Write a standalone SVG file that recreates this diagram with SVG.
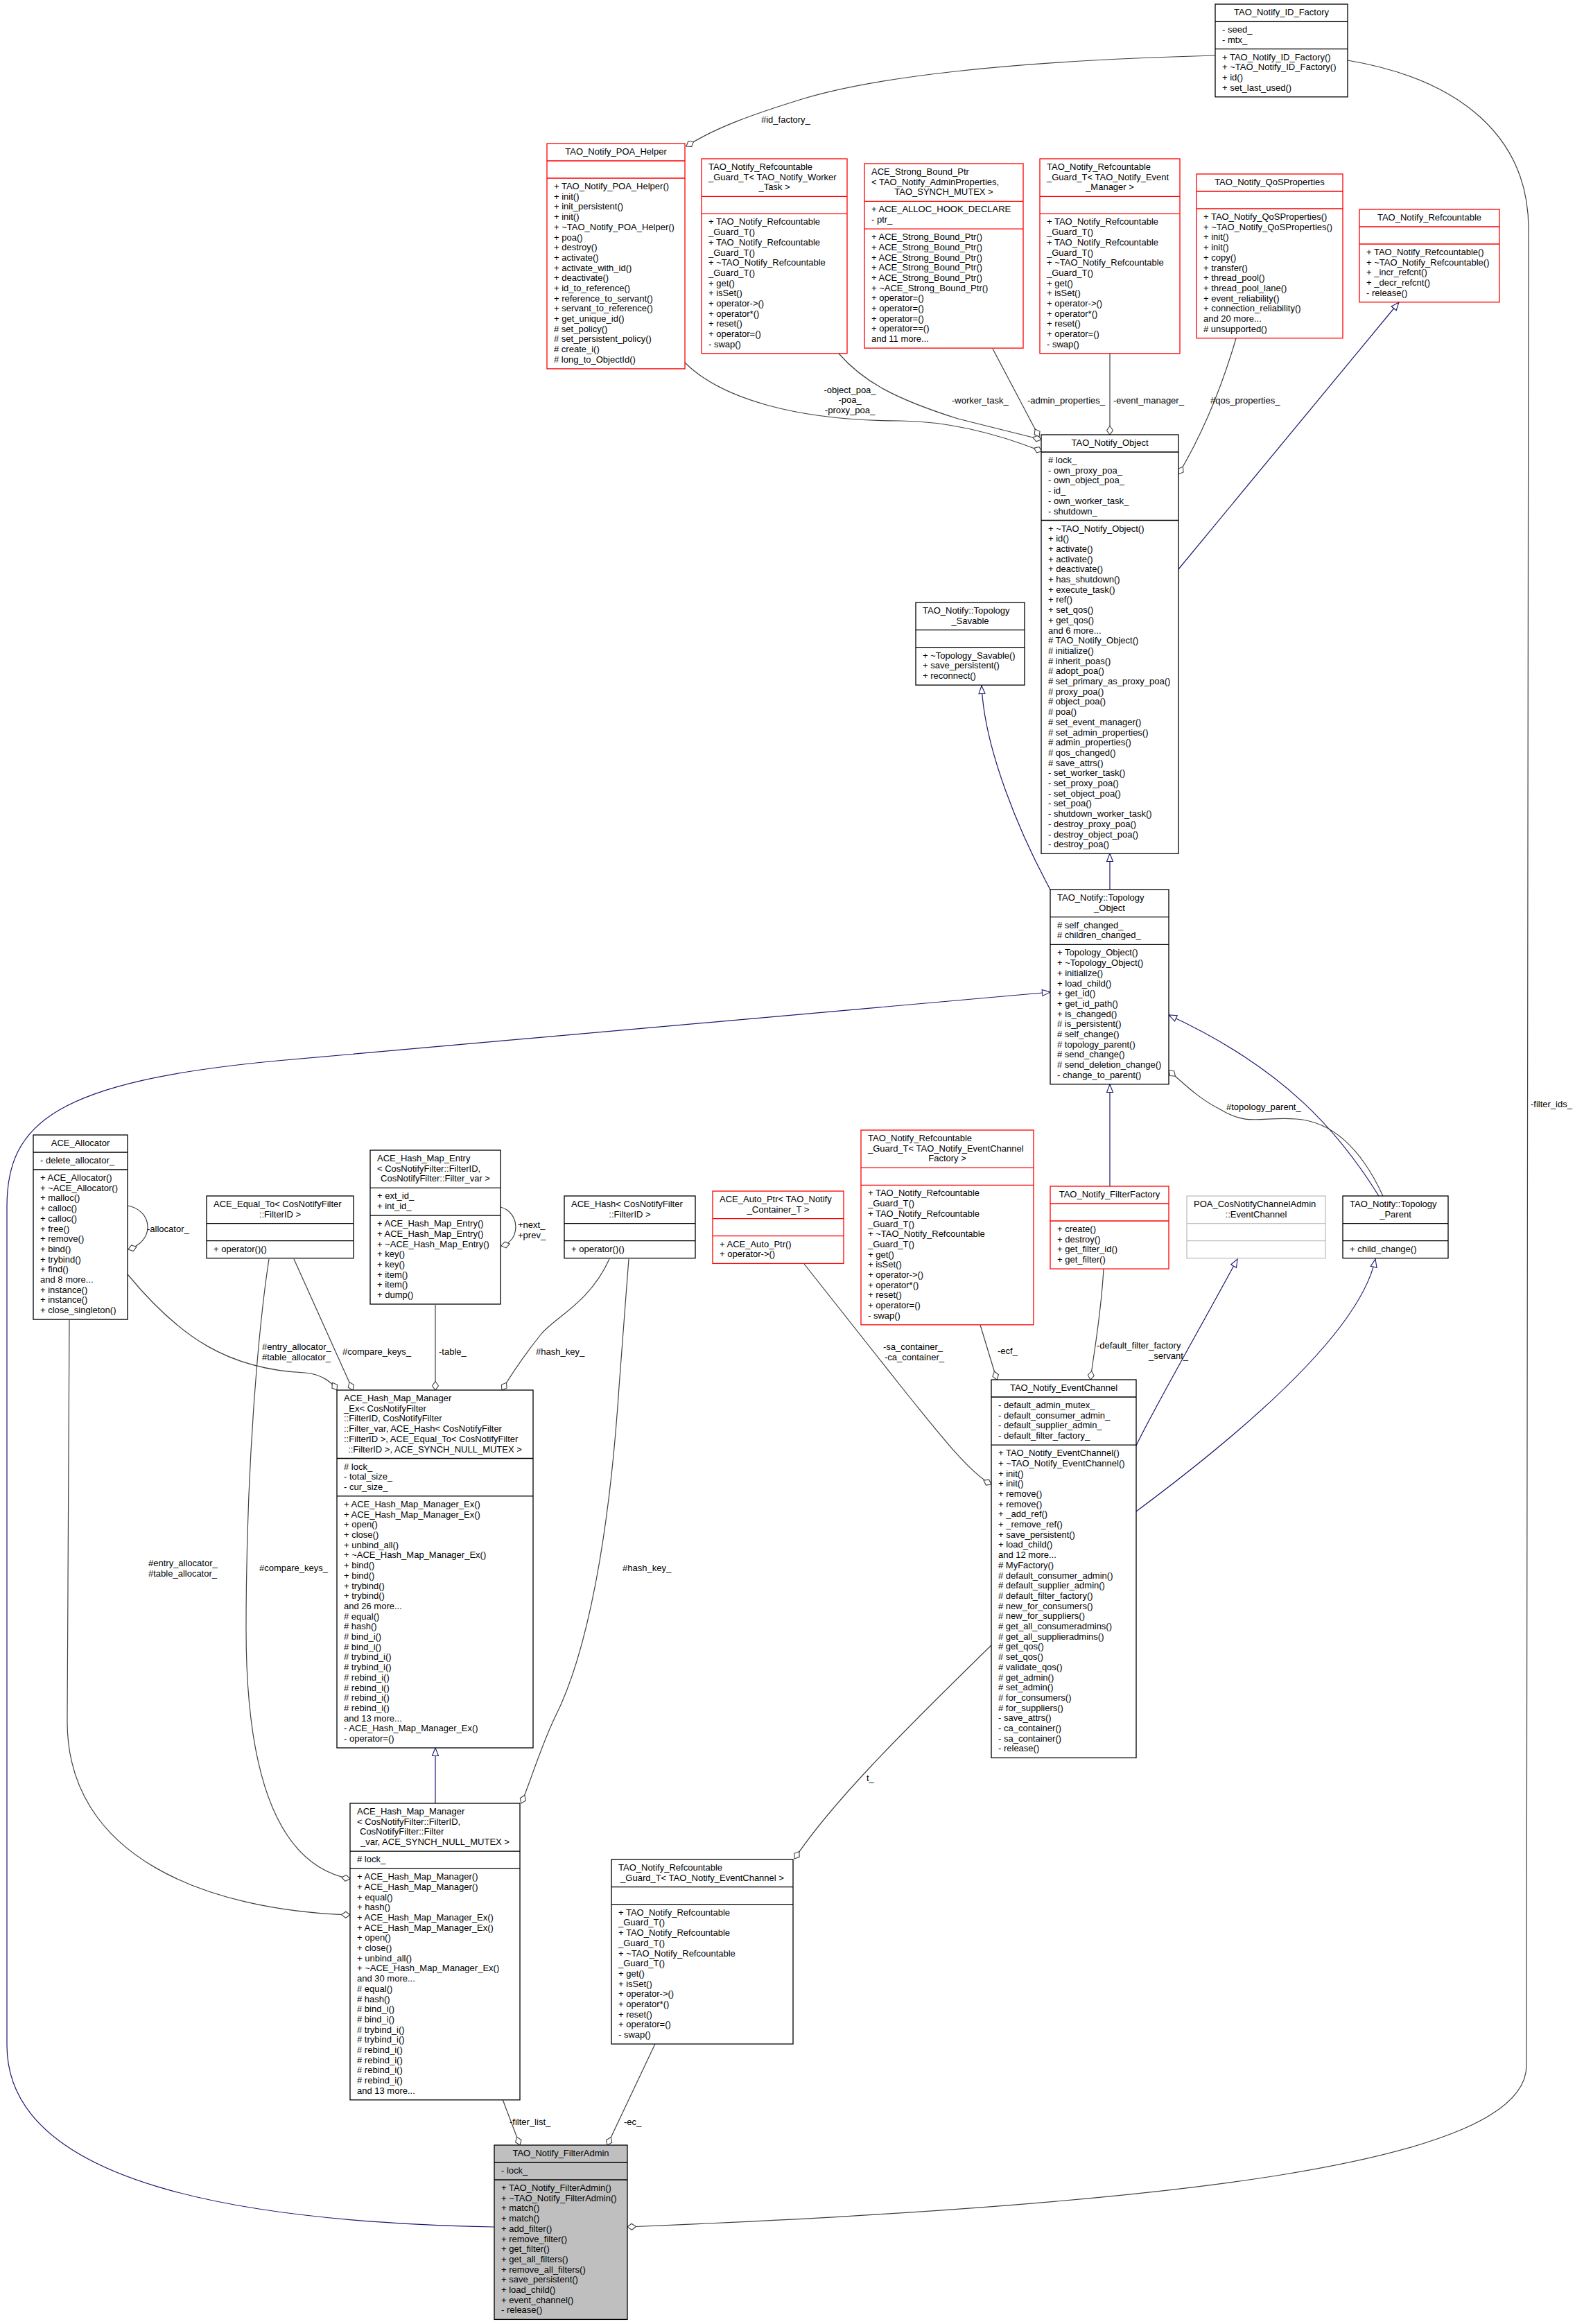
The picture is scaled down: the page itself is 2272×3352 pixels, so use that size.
<svg xmlns="http://www.w3.org/2000/svg" width="2272" height="3352" viewBox="0 0 2272 3352">
<style>
.t{font-family:"Liberation Sans",Arial,Helvetica,sans-serif;font-size:13px;fill:#000}
.c{text-anchor:middle}
.rb{fill:#fff;stroke:#ff0000;stroke-width:1.3}
.bb{fill:#fff;stroke:#000;stroke-width:1.3}
.gb{fill:#fff;stroke:#bfbfbf;stroke-width:1.3}
.fb{fill:#bfbfbf;stroke:#000;stroke-width:1.3}
.e{fill:none;stroke:#404040;stroke-width:1.2;marker-end:url(#d)}
.i{fill:none;stroke:#191970;stroke-width:1.2;marker-end:url(#a)}
</style>
<defs>
<marker id="d" markerUnits="userSpaceOnUse" markerWidth="14" markerHeight="12" refX="13" refY="5" orient="auto" overflow="visible"><path d="M0.5,5 L6.75,0.5 L13,5 L6.75,9.5 Z" fill="#fff" stroke="#404040" stroke-width="1.1"/></marker>
<marker id="a" markerUnits="userSpaceOnUse" markerWidth="14" markerHeight="12" refX="12" refY="5" orient="auto" overflow="visible"><path d="M0.5,0.5 L12,5 L0.5,9.5 Z" fill="#fff" stroke="#191970" stroke-width="1.1"/></marker>
</defs>
<rect x="0" y="0" width="2272" height="3352" fill="#fff"/>

<g id="connectors">
<path class="e" d="M1753,80 C1450,88 1260,112 1160,142 C1085,165 1030,185 990,211"/>
<path class="e" d="M1944,87 C2110,115 2205,200 2205,330 L2202,2980 C2200,3120 1700,3180 905,3212"/>
<path class="e" d="M988,523 C1040,575 1150,607 1300,607 C1380,608 1450,630 1503,651"/>
<path class="e" d="M1210,510 C1245,550 1290,575 1382,604 C1430,616 1470,626 1502,634"/>
<path class="e" d="M1432,503 L1499,630"/>
<path class="e" d="M1601,510 L1601,627"/>
<path class="e" d="M1783,488 C1762,560 1735,625 1700,684"/>
<path class="i" d="M1700,821 L2018,436"/>
<path class="i" d="M1515,1283 C1470,1200 1420,1080 1416,989"/>
<path class="i" d="M1601,1283 L1601,1231"/>
<path class="i" d="M713,3212 C350,3205 10,3150 10,2950 L10,1740 C10,1620 80,1560 400,1530 L1515,1431"/>
<path class="i" d="M1989,1725 C1930,1630 1850,1540 1686,1464"/>
<path class="e" d="M1995,1725 C1965,1660 1925,1618 1870,1614 C1820,1610 1800,1625 1760,1600 C1730,1585 1710,1565 1686,1544"/>
<path class="i" d="M1601,1711 L1601,1564"/>
<path class="e" d="M1592,1830 C1588,1900 1578,1950 1573,1990"/>
<path class="e" d="M1414,1911 L1438,1990"/>
<path class="e" d="M1160,1823 L1300,2000 C1360,2075 1400,2125 1430,2141"/>
<path class="i" d="M1639,2085 C1660,2040 1740,1900 1785,1816"/>
<path class="i" d="M1639,2180 C1760,2090 1960,1930 1984,1816"/>
<path class="e" d="M1430,2373 C1300,2500 1200,2600 1146,2681"/>
<path class="e" d="M945,2948 L876,3094"/>
<path class="e" d="M725,3028 L750,3094"/>
<path class="i" d="M628,2601 L628,2521"/>
<path class="e" d="M184,1838 C260,1930 330,1975 440,1980 C462,1982 478,1992 486,2005"/>
<path class="e" d="M100,1904 L97,2480 C95,2680 300,2755 505,2762"/>
<path class="e" d="M424,1816 L509,2005"/>
<path class="e" d="M388,1816 C375,1900 355,2100 355,2350 C355,2560 400,2690 505,2710"/>
<path class="e" d="M628,1882 L628,2005"/>
<path class="e" d="M879,1816 C850,1880 800,1900 780,1925 C760,1950 745,1970 724,2005"/>
<path class="e" d="M907,1816 L893,2000 C880,2200 850,2380 800,2478 C780,2520 765,2570 752,2601"/>
<path class="e" d="M184,1739 C220,1745 225,1790 185,1802"/>
<path class="e" d="M722,1741 C750,1748 752,1790 723,1797"/>
<g class="t">
<text x="1098" y="177">#id_factory_</text>
<text class="c" x="1226" y="566.5"><tspan x="1226">-object_poa_</tspan><tspan x="1226" dy="14.7">-poa_</tspan><tspan x="1226" dy="14.7">-proxy_poa_</tspan></text>
<text x="1373" y="582">-worker_task_</text>
<text x="1482" y="582">-admin_properties_</text>
<text x="1606" y="582">-event_manager_</text>
<text x="1746" y="582">#qos_properties_</text>
<text x="2208" y="1597">-filter_ids_</text>
<text x="1769" y="1601">#topology_parent_</text>
<text x="212" y="1777">-allocator_</text>
<text x="747" y="1771">+next_</text>
<text x="747" y="1786">+prev_</text>
<text x="378" y="1947">#entry_allocator_</text>
<text x="378" y="1961.7">#table_allocator_</text>
<text x="494" y="1954">#compare_keys_</text>
<text x="633" y="1954">-table_</text>
<text x="773" y="1954">#hash_key_</text>
<text x="1274" y="1947">-sa_container_</text>
<text x="1276" y="1961.7">-ca_container_</text>
<text x="1439" y="1953">-ecf_</text>
<text x="1582" y="1945">-default_filter_factory</text>
<text x="1657" y="1960">_servant_</text>
<text x="1250" y="2569">t_</text>
<text x="214" y="2259">#entry_allocator_</text>
<text x="214" y="2273.7">#table_allocator_</text>
<text x="374" y="2266">#compare_keys_</text>
<text x="898" y="2266">#hash_key_</text>
<text x="735" y="3065">-filter_list_</text>
<text x="900" y="3065">-ec_</text>
</g>
</g>

<g id="n_id_factory">
<rect class="bb" x="1753" y="6" width="191" height="133.8"/>
<path class="bb" d="M1753,31 h191 M1753,70.7 h191"/>
<text class="t c" x="1848.5" y="22">TAO_Notify_ID_Factory</text>
<text class="t" y="47"><tspan x="1763">- seed_</tspan><tspan x="1763" dy="14.7">- mtx_</tspan></text>
<text class="t" y="86.7"><tspan x="1763">+ TAO_Notify_ID_Factory()</tspan><tspan x="1763" dy="14.7">+ ~TAO_Notify_ID_Factory()</tspan><tspan x="1763" dy="14.7">+ id()</tspan><tspan x="1763" dy="14.7">+ set_last_used()</tspan></text>
</g>

<g id="n_poa_helper">
<rect class="rb" x="789" y="207" width="199" height="324.9"/>
<path class="rb" d="M789,232 h199 M789,257 h199"/>
<text class="t c" x="888.5" y="223">TAO_Notify_POA_Helper</text>
<text class="t" y="273"><tspan x="799">+ TAO_Notify_POA_Helper()</tspan><tspan x="799" dy="14.7">+ init()</tspan><tspan x="799" dy="14.7">+ init_persistent()</tspan><tspan x="799" dy="14.7">+ init()</tspan><tspan x="799" dy="14.7">+ ~TAO_Notify_POA_Helper()</tspan><tspan x="799" dy="14.7">+ poa()</tspan><tspan x="799" dy="14.7">+ destroy()</tspan><tspan x="799" dy="14.7">+ activate()</tspan><tspan x="799" dy="14.7">+ activate_with_id()</tspan><tspan x="799" dy="14.7">+ deactivate()</tspan><tspan x="799" dy="14.7">+ id_to_reference()</tspan><tspan x="799" dy="14.7">+ reference_to_servant()</tspan><tspan x="799" dy="14.7">+ servant_to_reference()</tspan><tspan x="799" dy="14.7">+ get_unique_id()</tspan><tspan x="799" dy="14.7"># set_policy()</tspan><tspan x="799" dy="14.7"># set_persistent_policy()</tspan><tspan x="799" dy="14.7"># create_i()</tspan><tspan x="799" dy="14.7"># long_to_ObjectId()</tspan></text>
</g>

<g id="n_guard_worker">
<rect class="rb" x="1012" y="229" width="210" height="280.8"/>
<path class="rb" d="M1012,283.4 h210 M1012,308.4 h210"/>
<text class="t" y="245"><tspan x="1022">TAO_Notify_Refcountable</tspan><tspan x="1022" dy="14.7">_Guard_T&lt; TAO_Notify_Worker</tspan><tspan class="c" x="1117" dy="14.7">_Task &gt;</tspan></text>
<text class="t" y="324.4"><tspan x="1022">+ TAO_Notify_Refcountable</tspan><tspan x="1022" dy="14.7">_Guard_T()</tspan><tspan x="1022" dy="14.7">+ TAO_Notify_Refcountable</tspan><tspan x="1022" dy="14.7">_Guard_T()</tspan><tspan x="1022" dy="14.7">+ ~TAO_Notify_Refcountable</tspan><tspan x="1022" dy="14.7">_Guard_T()</tspan><tspan x="1022" dy="14.7">+ get()</tspan><tspan x="1022" dy="14.7">+ isSet()</tspan><tspan x="1022" dy="14.7">+ operator-&gt;()</tspan><tspan x="1022" dy="14.7">+ operator*()</tspan><tspan x="1022" dy="14.7">+ reset()</tspan><tspan x="1022" dy="14.7">+ operator=()</tspan><tspan x="1022" dy="14.7">- swap()</tspan></text>
</g>

<g id="n_strong_bound_ptr">
<rect class="rb" x="1247" y="236" width="229" height="266.1"/>
<path class="rb" d="M1247,290.4 h229 M1247,330.1 h229"/>
<text class="t" y="252"><tspan x="1257">ACE_Strong_Bound_Ptr</tspan><tspan x="1257" dy="14.7">&lt; TAO_Notify_AdminProperties,</tspan><tspan class="c" x="1361.5" dy="14.7">TAO_SYNCH_MUTEX &gt;</tspan></text>
<text class="t" y="306.4"><tspan x="1257">+ ACE_ALLOC_HOOK_DECLARE</tspan><tspan x="1257" dy="14.7">- ptr_</tspan></text>
<text class="t" y="346.1"><tspan x="1257">+ ACE_Strong_Bound_Ptr()</tspan><tspan x="1257" dy="14.7">+ ACE_Strong_Bound_Ptr()</tspan><tspan x="1257" dy="14.7">+ ACE_Strong_Bound_Ptr()</tspan><tspan x="1257" dy="14.7">+ ACE_Strong_Bound_Ptr()</tspan><tspan x="1257" dy="14.7">+ ACE_Strong_Bound_Ptr()</tspan><tspan x="1257" dy="14.7">+ ~ACE_Strong_Bound_Ptr()</tspan><tspan x="1257" dy="14.7">+ operator=()</tspan><tspan x="1257" dy="14.7">+ operator=()</tspan><tspan x="1257" dy="14.7">+ operator=()</tspan><tspan x="1257" dy="14.7">+ operator==()</tspan><tspan x="1257" dy="14.7">and 11 more...</tspan></text>
</g>

<g id="n_guard_event_manager">
<rect class="rb" x="1500" y="229" width="202" height="280.8"/>
<path class="rb" d="M1500,283.4 h202 M1500,308.4 h202"/>
<text class="t" y="245"><tspan x="1510">TAO_Notify_Refcountable</tspan><tspan x="1510" dy="14.7">_Guard_T&lt; TAO_Notify_Event</tspan><tspan class="c" x="1601" dy="14.7">_Manager &gt;</tspan></text>
<text class="t" y="324.4"><tspan x="1510">+ TAO_Notify_Refcountable</tspan><tspan x="1510" dy="14.7">_Guard_T()</tspan><tspan x="1510" dy="14.7">+ TAO_Notify_Refcountable</tspan><tspan x="1510" dy="14.7">_Guard_T()</tspan><tspan x="1510" dy="14.7">+ ~TAO_Notify_Refcountable</tspan><tspan x="1510" dy="14.7">_Guard_T()</tspan><tspan x="1510" dy="14.7">+ get()</tspan><tspan x="1510" dy="14.7">+ isSet()</tspan><tspan x="1510" dy="14.7">+ operator-&gt;()</tspan><tspan x="1510" dy="14.7">+ operator*()</tspan><tspan x="1510" dy="14.7">+ reset()</tspan><tspan x="1510" dy="14.7">+ operator=()</tspan><tspan x="1510" dy="14.7">- swap()</tspan></text>
</g>

<g id="n_qos_properties">
<rect class="rb" x="1726" y="251" width="211" height="236.7"/>
<path class="rb" d="M1726,276 h211 M1726,301 h211"/>
<text class="t c" x="1831.5" y="267">TAO_Notify_QoSProperties</text>
<text class="t" y="317"><tspan x="1736">+ TAO_Notify_QoSProperties()</tspan><tspan x="1736" dy="14.7">+ ~TAO_Notify_QoSProperties()</tspan><tspan x="1736" dy="14.7">+ init()</tspan><tspan x="1736" dy="14.7">+ init()</tspan><tspan x="1736" dy="14.7">+ copy()</tspan><tspan x="1736" dy="14.7">+ transfer()</tspan><tspan x="1736" dy="14.7">+ thread_pool()</tspan><tspan x="1736" dy="14.7">+ thread_pool_lane()</tspan><tspan x="1736" dy="14.7">+ event_reliability()</tspan><tspan x="1736" dy="14.7">+ connection_reliability()</tspan><tspan x="1736" dy="14.7">and 20 more...</tspan><tspan x="1736" dy="14.7"># unsupported()</tspan></text>
</g>

<g id="n_refcountable">
<rect class="rb" x="1961" y="302" width="202" height="133.8"/>
<path class="rb" d="M1961,327 h202 M1961,352 h202"/>
<text class="t c" x="2062" y="318">TAO_Notify_Refcountable</text>
<text class="t" y="368"><tspan x="1971">+ TAO_Notify_Refcountable()</tspan><tspan x="1971" dy="14.7">+ ~TAO_Notify_Refcountable()</tspan><tspan x="1971" dy="14.7">+ _incr_refcnt()</tspan><tspan x="1971" dy="14.7">+ _decr_refcnt()</tspan><tspan x="1971" dy="14.7">- release()</tspan></text>
</g>

<g id="n_notify_object">
<rect class="bb" x="1502" y="627" width="198" height="604.2"/>
<path class="bb" d="M1502,652 h198 M1502,750.5 h198"/>
<text class="t c" x="1601" y="643">TAO_Notify_Object</text>
<text class="t" y="668"><tspan x="1512"># lock_</tspan><tspan x="1512" dy="14.7">- own_proxy_poa_</tspan><tspan x="1512" dy="14.7">- own_object_poa_</tspan><tspan x="1512" dy="14.7">- id_</tspan><tspan x="1512" dy="14.7">- own_worker_task_</tspan><tspan x="1512" dy="14.7">- shutdown_</tspan></text>
<text class="t" y="766.5"><tspan x="1512">+ ~TAO_Notify_Object()</tspan><tspan x="1512" dy="14.7">+ id()</tspan><tspan x="1512" dy="14.7">+ activate()</tspan><tspan x="1512" dy="14.7">+ activate()</tspan><tspan x="1512" dy="14.7">+ deactivate()</tspan><tspan x="1512" dy="14.7">+ has_shutdown()</tspan><tspan x="1512" dy="14.7">+ execute_task()</tspan><tspan x="1512" dy="14.7">+ ref()</tspan><tspan x="1512" dy="14.7">+ set_qos()</tspan><tspan x="1512" dy="14.7">+ get_qos()</tspan><tspan x="1512" dy="14.7">and 6 more...</tspan><tspan x="1512" dy="14.7"># TAO_Notify_Object()</tspan><tspan x="1512" dy="14.7"># initialize()</tspan><tspan x="1512" dy="14.7"># inherit_poas()</tspan><tspan x="1512" dy="14.7"># adopt_poa()</tspan><tspan x="1512" dy="14.7"># set_primary_as_proxy_poa()</tspan><tspan x="1512" dy="14.7"># proxy_poa()</tspan><tspan x="1512" dy="14.7"># object_poa()</tspan><tspan x="1512" dy="14.7"># poa()</tspan><tspan x="1512" dy="14.7"># set_event_manager()</tspan><tspan x="1512" dy="14.7"># set_admin_properties()</tspan><tspan x="1512" dy="14.7"># admin_properties()</tspan><tspan x="1512" dy="14.7"># qos_changed()</tspan><tspan x="1512" dy="14.7"># save_attrs()</tspan><tspan x="1512" dy="14.7">- set_worker_task()</tspan><tspan x="1512" dy="14.7">- set_proxy_poa()</tspan><tspan x="1512" dy="14.7">- set_object_poa()</tspan><tspan x="1512" dy="14.7">- set_poa()</tspan><tspan x="1512" dy="14.7">- shutdown_worker_task()</tspan><tspan x="1512" dy="14.7">- destroy_proxy_poa()</tspan><tspan x="1512" dy="14.7">- destroy_object_poa()</tspan><tspan x="1512" dy="14.7">- destroy_poa()</tspan></text>
</g>

<g id="n_topology_savable">
<rect class="bb" x="1321" y="869" width="157" height="119.1"/>
<path class="bb" d="M1321,908.7 h157 M1321,933.7 h157"/>
<text class="t" y="885"><tspan x="1331">TAO_Notify::Topology</tspan><tspan class="c" x="1399.5" dy="14.7">_Savable</tspan></text>
<text class="t" y="949.7"><tspan x="1331">+ ~Topology_Savable()</tspan><tspan x="1331" dy="14.7">+ save_persistent()</tspan><tspan x="1331" dy="14.7">+ reconnect()</tspan></text>
</g>

<g id="n_topology_object">
<rect class="bb" x="1515" y="1283" width="171" height="280.8"/>
<path class="bb" d="M1515,1322.7 h171 M1515,1362.4 h171"/>
<text class="t" y="1299"><tspan x="1525">TAO_Notify::Topology</tspan><tspan class="c" x="1600.5" dy="14.7">_Object</tspan></text>
<text class="t" y="1338.7"><tspan x="1525"># self_changed_</tspan><tspan x="1525" dy="14.7"># children_changed_</tspan></text>
<text class="t" y="1378.4"><tspan x="1525">+ Topology_Object()</tspan><tspan x="1525" dy="14.7">+ ~Topology_Object()</tspan><tspan x="1525" dy="14.7">+ initialize()</tspan><tspan x="1525" dy="14.7">+ load_child()</tspan><tspan x="1525" dy="14.7">+ get_id()</tspan><tspan x="1525" dy="14.7">+ get_id_path()</tspan><tspan x="1525" dy="14.7">+ is_changed()</tspan><tspan x="1525" dy="14.7"># is_persistent()</tspan><tspan x="1525" dy="14.7"># self_change()</tspan><tspan x="1525" dy="14.7"># topology_parent()</tspan><tspan x="1525" dy="14.7"># send_change()</tspan><tspan x="1525" dy="14.7"># send_deletion_change()</tspan><tspan x="1525" dy="14.7">- change_to_parent()</tspan></text>
</g>

<g id="n_ace_allocator">
<rect class="bb" x="48" y="1637" width="136" height="266.1"/>
<path class="bb" d="M48,1662 h136 M48,1687 h136"/>
<text class="t c" x="116" y="1653">ACE_Allocator</text>
<text class="t" x="58" y="1678">- delete_allocator_</text>
<text class="t" y="1703"><tspan x="58">+ ACE_Allocator()</tspan><tspan x="58" dy="14.7">+ ~ACE_Allocator()</tspan><tspan x="58" dy="14.7">+ malloc()</tspan><tspan x="58" dy="14.7">+ calloc()</tspan><tspan x="58" dy="14.7">+ calloc()</tspan><tspan x="58" dy="14.7">+ free()</tspan><tspan x="58" dy="14.7">+ remove()</tspan><tspan x="58" dy="14.7">+ bind()</tspan><tspan x="58" dy="14.7">+ trybind()</tspan><tspan x="58" dy="14.7">+ find()</tspan><tspan x="58" dy="14.7">and 8 more...</tspan><tspan x="58" dy="14.7">+ instance()</tspan><tspan x="58" dy="14.7">+ instance()</tspan><tspan x="58" dy="14.7">+ close_singleton()</tspan></text>
</g>

<g id="n_ace_equal_to">
<rect class="bb" x="298" y="1725" width="212" height="89.7"/>
<path class="bb" d="M298,1764.7 h212 M298,1789.7 h212"/>
<text class="t" y="1741"><tspan x="308">ACE_Equal_To&lt; CosNotifyFilter</tspan><tspan class="c" x="404" dy="14.7">::FilterID &gt;</tspan></text>
<text class="t" x="308" y="1805.7">+ operator()()</text>
</g>

<g id="n_hash_map_entry">
<rect class="bb" x="534" y="1659" width="188" height="222"/>
<path class="bb" d="M534,1713.4 h188 M534,1753.1 h188"/>
<text class="t" y="1675"><tspan x="544">ACE_Hash_Map_Entry</tspan><tspan x="544" dy="14.7">&lt; CosNotifyFilter::FilterID,</tspan><tspan class="c" x="628" dy="14.7">CosNotifyFilter::Filter_var &gt;</tspan></text>
<text class="t" y="1729.4"><tspan x="544">+ ext_id_</tspan><tspan x="544" dy="14.7">+ int_id_</tspan></text>
<text class="t" y="1769.1"><tspan x="544">+ ACE_Hash_Map_Entry()</tspan><tspan x="544" dy="14.7">+ ACE_Hash_Map_Entry()</tspan><tspan x="544" dy="14.7">+ ~ACE_Hash_Map_Entry()</tspan><tspan x="544" dy="14.7">+ key()</tspan><tspan x="544" dy="14.7">+ key()</tspan><tspan x="544" dy="14.7">+ item()</tspan><tspan x="544" dy="14.7">+ item()</tspan><tspan x="544" dy="14.7">+ dump()</tspan></text>
</g>

<g id="n_ace_hash">
<rect class="bb" x="814" y="1725" width="189" height="89.7"/>
<path class="bb" d="M814,1764.7 h189 M814,1789.7 h189"/>
<text class="t" y="1741"><tspan x="824">ACE_Hash&lt; CosNotifyFilter</tspan><tspan class="c" x="908.5" dy="14.7">::FilterID &gt;</tspan></text>
<text class="t" x="824" y="1805.7">+ operator()()</text>
</g>

<g id="n_auto_ptr">
<rect class="rb" x="1028" y="1718" width="189" height="104.4"/>
<path class="rb" d="M1028,1757.7 h189 M1028,1782.7 h189"/>
<text class="t" y="1734"><tspan x="1038">ACE_Auto_Ptr&lt; TAO_Notify</tspan><tspan class="c" x="1122.5" dy="14.7">_Container_T &gt;</tspan></text>
<text class="t" y="1798.7"><tspan x="1038">+ ACE_Auto_Ptr()</tspan><tspan x="1038" dy="14.7">+ operator-&gt;()</tspan></text>
</g>

<g id="n_guard_ecf">
<rect class="rb" x="1242" y="1630" width="249" height="280.8"/>
<path class="rb" d="M1242,1684.4 h249 M1242,1709.4 h249"/>
<text class="t" y="1646"><tspan x="1252">TAO_Notify_Refcountable</tspan><tspan x="1252" dy="14.7">_Guard_T&lt; TAO_Notify_EventChannel</tspan><tspan class="c" x="1366.5" dy="14.7">Factory &gt;</tspan></text>
<text class="t" y="1725.4"><tspan x="1252">+ TAO_Notify_Refcountable</tspan><tspan x="1252" dy="14.7">_Guard_T()</tspan><tspan x="1252" dy="14.7">+ TAO_Notify_Refcountable</tspan><tspan x="1252" dy="14.7">_Guard_T()</tspan><tspan x="1252" dy="14.7">+ ~TAO_Notify_Refcountable</tspan><tspan x="1252" dy="14.7">_Guard_T()</tspan><tspan x="1252" dy="14.7">+ get()</tspan><tspan x="1252" dy="14.7">+ isSet()</tspan><tspan x="1252" dy="14.7">+ operator-&gt;()</tspan><tspan x="1252" dy="14.7">+ operator*()</tspan><tspan x="1252" dy="14.7">+ reset()</tspan><tspan x="1252" dy="14.7">+ operator=()</tspan><tspan x="1252" dy="14.7">- swap()</tspan></text>
</g>

<g id="n_filter_factory">
<rect class="rb" x="1515" y="1711" width="171" height="119.1"/>
<path class="rb" d="M1515,1736 h171 M1515,1761 h171"/>
<text class="t c" x="1600.5" y="1727">TAO_Notify_FilterFactory</text>
<text class="t" y="1777"><tspan x="1525">+ create()</tspan><tspan x="1525" dy="14.7">+ destroy()</tspan><tspan x="1525" dy="14.7">+ get_filter_id()</tspan><tspan x="1525" dy="14.7">+ get_filter()</tspan></text>
</g>

<g id="n_poa_event_channel">
<rect class="gb" x="1712" y="1725" width="200" height="89.7"/>
<path class="gb" d="M1712,1764.7 h200 M1712,1789.7 h200"/>
<text class="t" y="1741"><tspan x="1722">POA_CosNotifyChannelAdmin</tspan><tspan class="c" x="1812" dy="14.7">::EventChannel</tspan></text>
</g>

<g id="n_topology_parent">
<rect class="bb" x="1937" y="1725" width="152" height="89.7"/>
<path class="bb" d="M1937,1764.7 h152 M1937,1789.7 h152"/>
<text class="t" y="1741"><tspan x="1947">TAO_Notify::Topology</tspan><tspan class="c" x="2013" dy="14.7">_Parent</tspan></text>
<text class="t" x="1947" y="1805.7">+ child_change()</text>
</g>

<g id="n_hash_map_manager_ex">
<rect class="bb" x="486" y="2005" width="283" height="516"/>
<path class="bb" d="M486,2103.5 h283 M486,2157.9 h283"/>
<text class="t" y="2021"><tspan x="496">ACE_Hash_Map_Manager</tspan><tspan x="496" dy="14.7">_Ex&lt; CosNotifyFilter</tspan><tspan x="496" dy="14.7">::FilterID, CosNotifyFilter</tspan><tspan x="496" dy="14.7">::Filter_var, ACE_Hash&lt; CosNotifyFilter</tspan><tspan x="496" dy="14.7">::FilterID &gt;, ACE_Equal_To&lt; CosNotifyFilter</tspan><tspan class="c" x="627.5" dy="14.7">::FilterID &gt;, ACE_SYNCH_NULL_MUTEX &gt;</tspan></text>
<text class="t" y="2119.5"><tspan x="496"># lock_</tspan><tspan x="496" dy="14.7">- total_size_</tspan><tspan x="496" dy="14.7">- cur_size_</tspan></text>
<text class="t" y="2173.9"><tspan x="496">+ ACE_Hash_Map_Manager_Ex()</tspan><tspan x="496" dy="14.7">+ ACE_Hash_Map_Manager_Ex()</tspan><tspan x="496" dy="14.7">+ open()</tspan><tspan x="496" dy="14.7">+ close()</tspan><tspan x="496" dy="14.7">+ unbind_all()</tspan><tspan x="496" dy="14.7">+ ~ACE_Hash_Map_Manager_Ex()</tspan><tspan x="496" dy="14.7">+ bind()</tspan><tspan x="496" dy="14.7">+ bind()</tspan><tspan x="496" dy="14.7">+ trybind()</tspan><tspan x="496" dy="14.7">+ trybind()</tspan><tspan x="496" dy="14.7">and 26 more...</tspan><tspan x="496" dy="14.7"># equal()</tspan><tspan x="496" dy="14.7"># hash()</tspan><tspan x="496" dy="14.7"># bind_i()</tspan><tspan x="496" dy="14.7"># bind_i()</tspan><tspan x="496" dy="14.7"># trybind_i()</tspan><tspan x="496" dy="14.7"># trybind_i()</tspan><tspan x="496" dy="14.7"># rebind_i()</tspan><tspan x="496" dy="14.7"># rebind_i()</tspan><tspan x="496" dy="14.7"># rebind_i()</tspan><tspan x="496" dy="14.7"># rebind_i()</tspan><tspan x="496" dy="14.7">and 13 more...</tspan><tspan x="496" dy="14.7">- ACE_Hash_Map_Manager_Ex()</tspan><tspan x="496" dy="14.7">- operator=()</tspan></text>
</g>

<g id="n_event_channel">
<rect class="bb" x="1430" y="1990" width="209" height="545.4"/>
<path class="bb" d="M1430,2015 h209 M1430,2084.1 h209"/>
<text class="t c" x="1534.5" y="2006">TAO_Notify_EventChannel</text>
<text class="t" y="2031"><tspan x="1440">- default_admin_mutex_</tspan><tspan x="1440" dy="14.7">- default_consumer_admin_</tspan><tspan x="1440" dy="14.7">- default_supplier_admin_</tspan><tspan x="1440" dy="14.7">- default_filter_factory_</tspan></text>
<text class="t" y="2100.1"><tspan x="1440">+ TAO_Notify_EventChannel()</tspan><tspan x="1440" dy="14.7">+ ~TAO_Notify_EventChannel()</tspan><tspan x="1440" dy="14.7">+ init()</tspan><tspan x="1440" dy="14.7">+ init()</tspan><tspan x="1440" dy="14.7">+ remove()</tspan><tspan x="1440" dy="14.7">+ remove()</tspan><tspan x="1440" dy="14.7">+ _add_ref()</tspan><tspan x="1440" dy="14.7">+ _remove_ref()</tspan><tspan x="1440" dy="14.7">+ save_persistent()</tspan><tspan x="1440" dy="14.7">+ load_child()</tspan><tspan x="1440" dy="14.7">and 12 more...</tspan><tspan x="1440" dy="14.7"># MyFactory()</tspan><tspan x="1440" dy="14.7"># default_consumer_admin()</tspan><tspan x="1440" dy="14.7"># default_supplier_admin()</tspan><tspan x="1440" dy="14.7"># default_filter_factory()</tspan><tspan x="1440" dy="14.7"># new_for_consumers()</tspan><tspan x="1440" dy="14.7"># new_for_suppliers()</tspan><tspan x="1440" dy="14.7"># get_all_consumeradmins()</tspan><tspan x="1440" dy="14.7"># get_all_supplieradmins()</tspan><tspan x="1440" dy="14.7"># get_qos()</tspan><tspan x="1440" dy="14.7"># set_qos()</tspan><tspan x="1440" dy="14.7"># validate_qos()</tspan><tspan x="1440" dy="14.7"># get_admin()</tspan><tspan x="1440" dy="14.7"># set_admin()</tspan><tspan x="1440" dy="14.7"># for_consumers()</tspan><tspan x="1440" dy="14.7"># for_suppliers()</tspan><tspan x="1440" dy="14.7">- save_attrs()</tspan><tspan x="1440" dy="14.7">- ca_container()</tspan><tspan x="1440" dy="14.7">- sa_container()</tspan><tspan x="1440" dy="14.7">- release()</tspan></text>
</g>

<g id="n_hash_map_manager">
<rect class="bb" x="505" y="2601" width="245" height="427.8"/>
<path class="bb" d="M505,2670.1 h245 M505,2695.1 h245"/>
<text class="t" y="2617"><tspan x="515">ACE_Hash_Map_Manager</tspan><tspan x="515" dy="14.7">&lt; CosNotifyFilter::FilterID,</tspan><tspan x="519" dy="14.7">CosNotifyFilter::Filter</tspan><tspan class="c" x="627.5" dy="14.7">_var, ACE_SYNCH_NULL_MUTEX &gt;</tspan></text>
<text class="t" x="515" y="2686.1"># lock_</text>
<text class="t" y="2711.1"><tspan x="515">+ ACE_Hash_Map_Manager()</tspan><tspan x="515" dy="14.7">+ ACE_Hash_Map_Manager()</tspan><tspan x="515" dy="14.7">+ equal()</tspan><tspan x="515" dy="14.7">+ hash()</tspan><tspan x="515" dy="14.7">+ ACE_Hash_Map_Manager_Ex()</tspan><tspan x="515" dy="14.7">+ ACE_Hash_Map_Manager_Ex()</tspan><tspan x="515" dy="14.7">+ open()</tspan><tspan x="515" dy="14.7">+ close()</tspan><tspan x="515" dy="14.7">+ unbind_all()</tspan><tspan x="515" dy="14.7">+ ~ACE_Hash_Map_Manager_Ex()</tspan><tspan x="515" dy="14.7">and 30 more...</tspan><tspan x="515" dy="14.7"># equal()</tspan><tspan x="515" dy="14.7"># hash()</tspan><tspan x="515" dy="14.7"># bind_i()</tspan><tspan x="515" dy="14.7"># bind_i()</tspan><tspan x="515" dy="14.7"># trybind_i()</tspan><tspan x="515" dy="14.7"># trybind_i()</tspan><tspan x="515" dy="14.7"># rebind_i()</tspan><tspan x="515" dy="14.7"># rebind_i()</tspan><tspan x="515" dy="14.7"># rebind_i()</tspan><tspan x="515" dy="14.7"># rebind_i()</tspan><tspan x="515" dy="14.7">and 13 more...</tspan></text>
</g>

<g id="n_guard_event_channel">
<rect class="bb" x="882" y="2682" width="262" height="266.1"/>
<path class="bb" d="M882,2721.7 h262 M882,2746.7 h262"/>
<text class="t" y="2698"><tspan x="892">TAO_Notify_Refcountable</tspan><tspan class="c" x="1013" dy="14.7">_Guard_T&lt; TAO_Notify_EventChannel &gt;</tspan></text>
<text class="t" y="2762.7"><tspan x="892">+ TAO_Notify_Refcountable</tspan><tspan x="892" dy="14.7">_Guard_T()</tspan><tspan x="892" dy="14.7">+ TAO_Notify_Refcountable</tspan><tspan x="892" dy="14.7">_Guard_T()</tspan><tspan x="892" dy="14.7">+ ~TAO_Notify_Refcountable</tspan><tspan x="892" dy="14.7">_Guard_T()</tspan><tspan x="892" dy="14.7">+ get()</tspan><tspan x="892" dy="14.7">+ isSet()</tspan><tspan x="892" dy="14.7">+ operator-&gt;()</tspan><tspan x="892" dy="14.7">+ operator*()</tspan><tspan x="892" dy="14.7">+ reset()</tspan><tspan x="892" dy="14.7">+ operator=()</tspan><tspan x="892" dy="14.7">- swap()</tspan></text>
</g>

<g id="n_filter_admin">
<rect class="fb" x="713" y="3094" width="192" height="251.4"/>
<path class="fb" d="M713,3119 h192 M713,3144 h192"/>
<text class="t c" x="809" y="3110">TAO_Notify_FilterAdmin</text>
<text class="t" x="723" y="3135">- lock_</text>
<text class="t" y="3160"><tspan x="723">+ TAO_Notify_FilterAdmin()</tspan><tspan x="723" dy="14.7">+ ~TAO_Notify_FilterAdmin()</tspan><tspan x="723" dy="14.7">+ match()</tspan><tspan x="723" dy="14.7">+ match()</tspan><tspan x="723" dy="14.7">+ add_filter()</tspan><tspan x="723" dy="14.7">+ remove_filter()</tspan><tspan x="723" dy="14.7">+ get_filter()</tspan><tspan x="723" dy="14.7">+ get_all_filters()</tspan><tspan x="723" dy="14.7">+ remove_all_filters()</tspan><tspan x="723" dy="14.7">+ save_persistent()</tspan><tspan x="723" dy="14.7">+ load_child()</tspan><tspan x="723" dy="14.7">+ event_channel()</tspan><tspan x="723" dy="14.7">- release()</tspan></text>
</g>
</svg>
